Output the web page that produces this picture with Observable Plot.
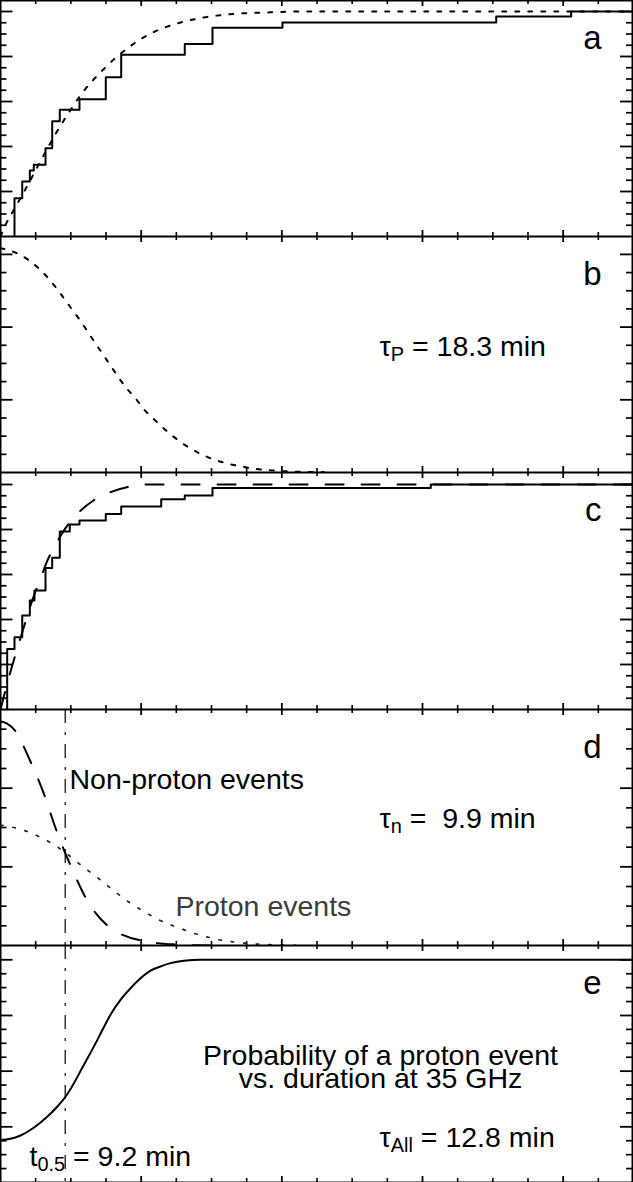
<!DOCTYPE html>
<html><head><meta charset="utf-8">
<script src="https://cdn.jsdelivr.net/npm/d3@7"></script>
<script src="https://cdn.jsdelivr.net/npm/@observablehq/plot@0.6"></script>
<style>
html,body{margin:0;padding:0;background:#fff;}
#chart svg{display:block;}
</style></head><body><div id="chart"></div>
<script>
// ---------- data ----------
const xMajor = [20, 40, 60, 80];
const xMinor = [5, 10, 15, 25, 30, 35, 45, 50, 55, 65, 70, 75, 85];

// panel a: proton events, empirical CDF + fit
const aStepT = [1.99, 1.99, 3.09, 4.17, 4.73, 6.40, 7.35, 8.43, 11.23, 14.97, 17.16, 26.20, 30.14, 40.09, 70.48, 81.14, 90];
const aStepV = [0, 0.170, 0.244, 0.293, 0.319, 0.392, 0.512, 0.563, 0.610, 0.708, 0.808, 0.856, 0.928, 0.951, 0.978, 1.0, 1.0];
const aFitT = [0, 0.95, 1.99, 3.55, 5.69, 7.54, 9.53, 11.8, 14.2, 17.1, 20.3, 23.7, 25.6, 29.4, 33.1, 38, 42.7, 90];
const aFitV = [0, 0.066, 0.124, 0.210, 0.335, 0.44, 0.542, 0.645, 0.729, 0.813, 0.884, 0.933, 0.951, 0.976, 0.989, 0.996, 1.0, 1.0];
const aYMajor = [0.2, 0.4, 0.6, 0.8, 1.0];
const aYMinor = [0.05, 0.1, 0.15, 0.25, 0.3, 0.35, 0.45, 0.5, 0.55, 0.65, 0.7, 0.75, 0.85, 0.9, 0.95];

// panel b: proton events, density
const bT = [0, 2.13, 3.80, 5.30, 6.73, 7.96, 9.10, 10.19, 11.37, 12.41, 13.51, 14.60, 15.64, 16.73, 17.92, 19.20, 20.38, 21.80, 23.22, 24.64, 26.20, 27.87, 29.62, 31.42, 33.31, 35.22, 37.11, 39.0, 40.9, 42.8, 46];
const bV = [0.0617, 0.0605, 0.0587, 0.0564, 0.0536, 0.0507, 0.0477, 0.0448, 0.0417, 0.0387, 0.0355, 0.0324, 0.0294, 0.0263, 0.0232, 0.0204, 0.0174, 0.0147, 0.0121, 0.0098, 0.0076, 0.0057, 0.0041, 0.0029, 0.0020, 0.0013, 0.0008, 0.0005, 0.0003, 0.0002, 0.0001];
const bYMajor = [0.02, 0.04, 0.06];
const bYMinor = [0.005, 0.01, 0.015, 0.025, 0.03, 0.035, 0.045, 0.05, 0.055];

// panel c: non-proton events, empirical CDF + fit
const cStepT = [0.95, 0.95, 1.99, 3.09, 4.17, 4.83, 6.40, 7.35, 8.43, 9.85, 11.23, 14.97, 17.16, 22.85, 26.20, 30.14, 61.18, 90];
const cStepV = [0, 0.269, 0.321, 0.418, 0.484, 0.529, 0.629, 0.674, 0.791, 0.822, 0.840, 0.869, 0.902, 0.935, 0.951, 0.984, 1.0, 1.0];
const cFitT = [0, 1.42, 2.27, 3.5, 4.74, 5.79, 6.64, 7.58, 9.24, 11.13, 13.27, 15.64, 18.48, 21.08, 90];
const cFitV = [0, 0.168, 0.258, 0.385, 0.505, 0.590, 0.660, 0.718, 0.806, 0.876, 0.930, 0.966, 0.991, 1.0, 1.0];
const cYMajor = aYMajor;
const cYMinor = aYMinor;

// panel d: densities
const dNonT = [0, 0.95, 2.13, 4.03, 6.16, 7.96, 9.0, 9.95, 12.23, 16.11, 21.3, 25, 30];
const dNonV = [0.114, 0.1128, 0.109, 0.0954, 0.0772, 0.0584, 0.0488, 0.0408, 0.0235, 0.0078, 0.0017, 0.0005, 0];
const dProT = [0, 1.89, 3.80, 5.69, 7.58, 9.48, 11.62, 13.51, 15.17, 16.82, 18.24, 19.91, 21.80, 23.46, 25.35, 27.26, 28.91, 30.81, 32.70, 34.59, 36.50, 38.39, 42];
const dProV = [0.0612, 0.0600, 0.0580, 0.0550, 0.0513, 0.0465, 0.0403, 0.0353, 0.0305, 0.0259, 0.0221, 0.0183, 0.0144, 0.0115, 0.0090, 0.0065, 0.0048, 0.0031, 0.0020, 0.0012, 0.0007, 0.0004, 0.0001];
const dYMajor = [0.04, 0.08];
const dYMinor = [0.01, 0.02, 0.03, 0.05, 0.06, 0.07, 0.09, 0.10, 0.11];

// panel e: probability
const eT = [0, 1.42, 2.84, 4.73, 6.64, 8.06, 9.24, 10.42, 11.84, 13.27, 14.22, 15.64, 17.06, 18.48, 19.91, 21.33, 22.75, 24.17, 26.06, 28.44, 90];
const eV = [0.191, 0.196, 0.211, 0.246, 0.295, 0.340, 0.385, 0.445, 0.528, 0.610, 0.668, 0.753, 0.820, 0.872, 0.917, 0.951, 0.970, 0.985, 0.996, 1.0, 1.0];
const eYMajor = [0.25, 0.5, 0.75, 1.0];
const eYMinor = [0.0625, 0.125, 0.1875, 0.3125, 0.375, 0.4375, 0.5625, 0.625, 0.6875, 0.8125, 0.875, 0.9375];

const tHalf = 9.2;

// ---------- drawing ----------
const W = 633;
const FONT = "'Liberation Sans', Arial, Helvetica, sans-serif";
const FS = 28.5;

function ticks(H, yMajor, yMinor) {
  const s = {stroke: "black"};
  return [
    Plot.tickX(xMinor, {...s, x: d => d, insetTop: H - 4, strokeWidth: 1.6}),
    Plot.tickX(xMajor, {...s, x: d => d, insetTop: H - 6, strokeWidth: 1.8}),
    Plot.tickX(xMinor, {...s, x: d => d, insetBottom: H - 4, strokeWidth: 1.6}),
    Plot.tickX(xMajor, {...s, x: d => d, insetBottom: H - 6, strokeWidth: 1.8}),
    Plot.tickY(yMinor, {...s, y: d => d, insetRight: W - 6.5, strokeWidth: 1.7}),
    Plot.tickY(yMajor, {...s, y: d => d, insetRight: W - 12.5, strokeWidth: 1.8}),
    Plot.tickY(yMinor, {...s, y: d => d, insetLeft: W - 7, strokeWidth: 1.7}),
    Plot.tickY(yMajor, {...s, y: d => d, insetLeft: W - 13, strokeWidth: 1.8}),
    Plot.frame({stroke: "black", strokeWidth: 2, insetRight: 1})
  ];
}

function letter(ch) {
  return Plot.text([ch], {text: d => d, frameAnchor: "top-right", dx: -32, dy: 48,
    textAnchor: "end", lineAnchor: "bottom", fontSize: 33, fill: "black"});
}

function label(str, dx, dy, extra = {}) {
  return Plot.text([str], {text: d => d, frameAnchor: "top-left", dx, dy,
    textAnchor: "start", lineAnchor: "bottom", fontSize: FS, fill: "black", ...extra});
}

function panel(H, yTop, yMajor, yMinor, marks) {
  const svg = Plot.plot({
    width: W, height: H,
    marginTop: 0, marginRight: 0, marginBottom: 0, marginLeft: 0,
    x: {domain: [0, 90], axis: null},
    y: {domain: [0, yTop], axis: null},
    style: {fontFamily: FONT, background: "white"},
    marks: [...marks, ...ticks(H, yMajor, yMinor)]
  });
  addSubscripts(svg);
  return svg;
}

function addSubscripts(svg) {
  const NS = "http://www.w3.org/2000/svg";
  d3.select(svg).selectAll("text").each(function() {
    const t = this.textContent;
    if (!t.includes("_{")) return;
    const parts = t.split(/(_\{[^}]*\})/).filter(p => p.length);
    while (this.firstChild) this.removeChild(this.firstChild);
    let shifted = false;
    for (const p of parts) {
      const m = p.match(/^_\{(.*)\}$/);
      const ts = document.createElementNS(NS, "tspan");
      if (m) {
        ts.textContent = m[1];
        ts.setAttribute("font-size", "70%");
        ts.setAttribute("dy", "5.5");
        shifted = true;
      } else {
        ts.textContent = p;
        if (shifted) { ts.setAttribute("dy", "-5.5"); shifted = false; }
      }
      this.appendChild(ts);
    }
  });
}

const lineW = 2;
const DOT = "4,9";
const DASH = "18,18";
const DASHDOT = "14,9,3,9";

const chart = document.getElementById("chart");

chart.appendChild(panel(236, 236 / 225, aYMajor, aYMinor, [
  Plot.line(aFitT, {x: aFitT, y: aFitV, curve: "monotone-x", stroke: "black", strokeWidth: lineW, strokeDasharray: DOT}),
  Plot.line(aStepT, {x: aStepT, y: aStepV, curve: "step-after", stroke: "black", strokeWidth: lineW}),
  letter("a")
]));

chart.appendChild(panel(236, 236 / 3635, bYMajor, bYMinor, [
  Plot.line(bT, {x: bT, y: bV, curve: "monotone-x", stroke: "black", strokeWidth: lineW, strokeDasharray: DOT}),
  letter("b"),
  label("τ_{P} = 18.3 min", 379, 119)
]));

chart.appendChild(panel(237, 237 / 225, cYMajor, cYMinor, [
  Plot.line(cFitT, {x: cFitT, y: cFitV, curve: "monotone-x", stroke: "black", strokeWidth: lineW, strokeDasharray: DASH}),
  Plot.line(cStepT, {x: cStepT, y: cStepV, curve: "step-after", stroke: "black", strokeWidth: lineW}),
  letter("c")
]));

chart.appendChild(panel(236, 0.12, dYMajor, dYMinor, [
  Plot.ruleX([tHalf], {stroke: "black", strokeWidth: 1.2, strokeDasharray: DASHDOT}),
  Plot.line(dProT, {x: dProT, y: dProV, curve: "monotone-x", stroke: "#222", strokeWidth: 1.7, strokeDasharray: "2.5,10"}),
  Plot.line(dNonT, {x: dNonT, y: dNonV, curve: "monotone-x", stroke: "black", strokeWidth: lineW, strokeDasharray: DASH}),
  letter("d"),
  label("Non-proton events", 69, 79),
  label("τ_{n} =\u00a0 9.9 min", 379, 118),
  label("Proton events", 175, 206, {fill: "#3c3c3c"})
]));

chart.appendChild(panel(237, 237 / 222.7, eYMajor, eYMinor, [
  Plot.ruleX([tHalf], {stroke: "black", strokeWidth: 1.2, strokeDasharray: DASHDOT}),
  Plot.line(eT, {x: eT, y: eV, curve: "monotone-x", stroke: "black", strokeWidth: lineW}),
  letter("e"),
  Plot.text(["Probability of a proton event\nvs. duration at 35 GHz"], {text: d => d, frameAnchor: "top-left",
    dx: 380, dy: 142.7, textAnchor: "middle", lineAnchor: "bottom", lineHeight: 0.82, fontSize: FS, fill: "black"}),
  label("τ_{All} = 12.8 min", 379, 201),
  label("t_{0.5} = 9.2 min", 29, 220)
]));
</script></body></html>
